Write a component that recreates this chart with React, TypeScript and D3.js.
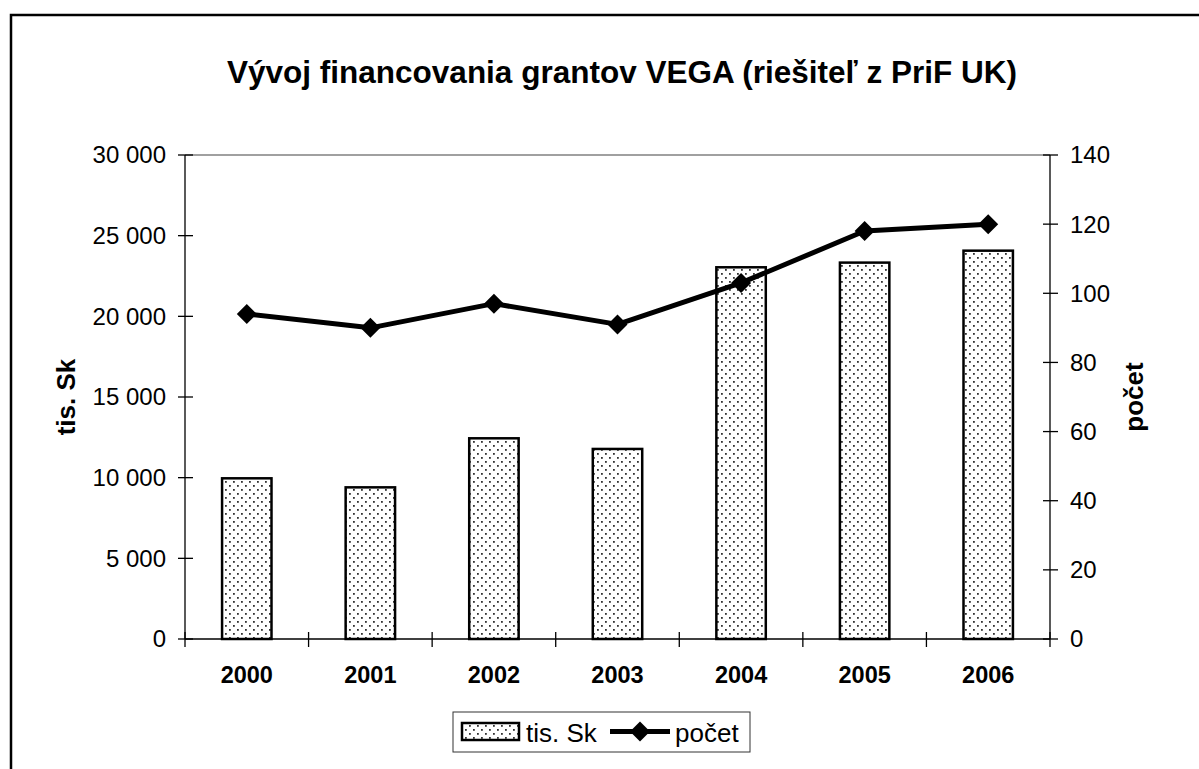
import React from 'react';
import * as d3 from 'd3';

const years = ['2000', '2001', '2002', '2003', '2004', '2005', '2006'];
const funding = [9960, 9400, 12440, 11780, 23040, 23330, 24070];
const counts = [94, 90, 97, 91, 103, 118, 120];

const title = 'Vývoj financovania grantov VEGA (riešiteľ z PriF UK)';
const leftTitle = 'tis. Sk';
const rightTitle = 'počet';

const W = 1199;
const H = 769;
const plot = { left: 185, right: 1050, top: 155, bottom: 639 };
const font = '"Liberation Sans", Arial, sans-serif';

const fmt = d3.formatLocale({ decimal: ',', thousands: ' ', grouping: [3], currency: ['', ''] }).format(',');

const App = () => {
  const x = d3.scaleBand().domain(years).range([plot.left, plot.right]);
  const yL = d3.scaleLinear().domain([0, 30000]).range([plot.bottom, plot.top]);
  const yR = d3.scaleLinear().domain([0, 140]).range([plot.bottom, plot.top]);
  const barW = x.bandwidth() * 0.4;
  const cx = (d: string) => (x(d) as number) + x.bandwidth() / 2;

  const pts: [number, number][] = years.map((d, i) => [cx(d), yR(counts[i])]);
  const linePath = d3.line()(pts) as string;
  const diamond = (px: number, py: number, r: number) =>
    `M${px},${py - r}L${px + r},${py}L${px},${py + r}L${px - r},${py}Z`;

  const boundaries = [...years.map(d => x(d) as number), plot.right];

  return (
    <svg width={W} height={H} style={{ position: 'absolute', left: 0, top: 0, background: '#fff' }} fontFamily={font}>
      <defs>
        <pattern id="dots" width="8" height="8" patternUnits="userSpaceOnUse">
          <rect width="8" height="8" fill="#fff" />
          <rect x="1" y="1" width="1.8" height="1.8" fill="#333" />
          <rect x="5" y="5" width="1.8" height="1.8" fill="#333" />
        </pattern>
      </defs>
      <rect x={11} y={15} width={W + 20} height={H + 20} fill="#fff" stroke="#000" strokeWidth={2.5} />

      <text x={622} y={83} textAnchor="middle" fontSize={31.5} fontWeight="bold">{title}</text>

      {/* plot frame top */}
      <line x1={plot.left} x2={plot.right} y1={plot.top} y2={plot.top} stroke="#808080" strokeWidth={1.5} />

      {/* bars */}
      {years.map((d, i) => (
        <rect key={d} x={cx(d) - barW / 2} y={yL(funding[i])} width={barW} height={plot.bottom - yL(funding[i])}
          fill="url(#dots)" stroke="#000" strokeWidth={2.5} />
      ))}

      {/* axes */}
      <line x1={plot.left} x2={plot.left} y1={plot.top} y2={plot.bottom} stroke="#000" strokeWidth={1.3} />
      <line x1={plot.right} x2={plot.right} y1={plot.top} y2={plot.bottom} stroke="#000" strokeWidth={1.3} />
      <line x1={plot.left} x2={plot.right} y1={plot.bottom} y2={plot.bottom} stroke="#000" strokeWidth={1.3} />

      {yL.ticks(6).map(t => (
        <g key={'l' + t}>
          <line x1={plot.left - 7} x2={plot.left + 8} y1={yL(t)} y2={yL(t)} stroke="#000" strokeWidth={1.3} />
          <text x={166} y={yL(t)} dy="0.35em" textAnchor="end" fontSize={24}>{fmt(t)}</text>
        </g>
      ))}
      {yR.ticks(7).map(t => (
        <g key={'r' + t}>
          <line x1={plot.right - 7} x2={plot.right + 8} y1={yR(t)} y2={yR(t)} stroke="#000" strokeWidth={1.3} />
          <text x={1070} y={yR(t)} dy="0.35em" textAnchor="start" fontSize={24}>{t}</text>
        </g>
      ))}
      {boundaries.map((b, i) => (
        <line key={'b' + i} x1={b} x2={b} y1={plot.bottom - 7} y2={plot.bottom + 8} stroke="#000" strokeWidth={1.3} />
      ))}
      {years.map(d => (
        <text key={'y' + d} x={cx(d)} y={683} textAnchor="middle" fontSize={23.5} fontWeight="bold">{d}</text>
      ))}

      <text transform={`translate(75,${(plot.top + plot.bottom) / 2}) rotate(-90)`} textAnchor="middle" fontSize={26} fontWeight="bold">{leftTitle}</text>
      <text transform={`translate(1143,${(plot.top + plot.bottom) / 2}) rotate(-90)`} textAnchor="middle" fontSize={26} fontWeight="bold">{rightTitle}</text>

      {/* line series */}
      <path d={linePath} fill="none" stroke="#000" strokeWidth={5} strokeLinejoin="round" />
      {pts.map(([px, py], i) => (
        <path key={'m' + i} d={diamond(px, py, 10)} fill="#000" />
      ))}

      {/* legend */}
      <rect x={453} y={712} width={297} height={40} fill="#fff" stroke="#333" strokeWidth={1} />
      <rect x={462} y={723} width={57} height={17} fill="url(#dots)" stroke="#000" strokeWidth={2.5} />
      <text x={526} y={742} fontSize={26}>{leftTitle}</text>
      <line x1={610} x2={670} y1={731.5} y2={731.5} stroke="#000" strokeWidth={5} />
      <path d={diamond(640, 731.5, 10)} fill="#000" />
      <text x={675} y={742} fontSize={26}>{rightTitle}</text>
    </svg>
  );
};

export default App;
